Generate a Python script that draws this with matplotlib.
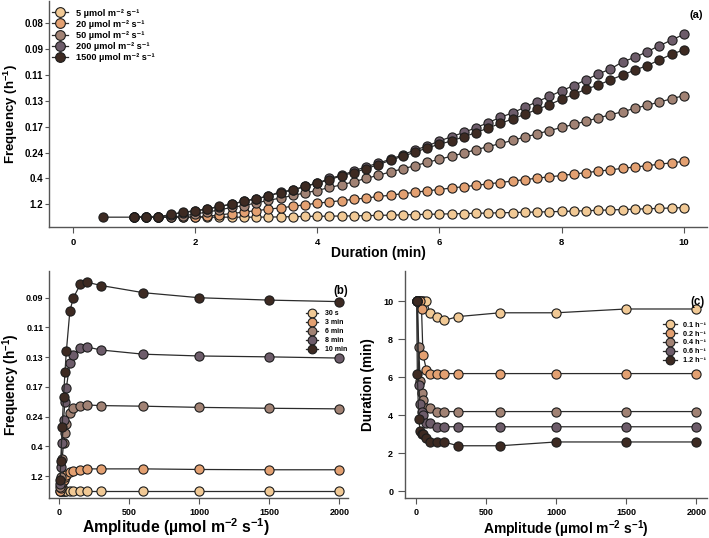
import matplotlib
matplotlib.use("Agg")
import matplotlib.pyplot as plt
from matplotlib.lines import Line2D

plt.rcParams['font.family'] = ['Liberation Sans', 'DejaVu Sans']
plt.rcParams['font.weight'] = 'bold'
plt.rcParams['mathtext.fontset'] = 'custom'
plt.rcParams['mathtext.rm'] = 'Liberation Sans:bold'
plt.rcParams['mathtext.it'] = 'Liberation Sans:bold'
plt.rcParams['mathtext.bf'] = 'Liberation Sans:bold'
plt.rcParams['mathtext.default'] = 'rm'

# ---------------- data ----------------
# y positions are oscillation period (min); tick labels show frequency (h^-1)
period_ticks = [50, 150, 250, 350, 450, 550, 650, 750]
freq_labels = ['1.2', '0.4', '0.24', '0.17', '0.13', '0.11', '0.09', '0.08']

# panel (a): duration (min)
dur_a = [1.0, 1.2, 1.4, 1.6, 1.8, 2.0, 2.2, 2.4, 2.6, 2.8, 3.0, 3.2, 3.4, 3.6, 3.8,
         4.0, 4.2, 4.4, 4.6, 4.8, 5.0, 5.2, 5.4, 5.6, 5.8, 6.0, 6.2, 6.4, 6.6, 6.8,
         7.0, 7.2, 7.4, 7.6, 7.8, 8.0, 8.2, 8.4, 8.6, 8.8, 9.0, 9.2, 9.4, 9.6, 9.8, 10.0]
dur_a_1500 = [0.5] + dur_a
amp_labels_a = ['5 µmol m⁻² s⁻¹', '20 µmol m⁻² s⁻¹', '50 µmol m⁻² s⁻¹',
                '200 µmol m⁻² s⁻¹', '1500 µmol m⁻² s⁻¹']
per_5 = [0, 0, 0, 0, 0, 0, 0, 0, 0, 0, 0, 0.5, 1, 2, 3, 3.5, 4, 4.5, 5, 6, 7, 8, 9,
         10, 11, 12, 13, 14, 15, 16, 17, 18, 19, 20, 21, 22, 23.5, 25, 26.5, 28,
         29.5, 31, 32.5, 34, 35.5, 37]
per_20 = [0, 0, 0, 0, 0, 0, 3, 9, 14, 20, 25, 31, 36, 42, 48, 54, 59, 64, 69, 74, 80,
          85, 91, 96, 102, 107, 113, 118, 123, 129, 134, 140, 145, 151, 156, 161,
          167, 172, 178, 183, 189, 194, 199, 205, 210, 216]
per_50 = [0, 0, 0, 0, 5, 12, 20, 28, 38, 45, 55, 65, 74, 84, 94, 103, 115, 125, 137,
          150, 162, 175, 187, 199, 212, 224, 236, 248, 261, 273, 285, 297, 310, 322,
          335, 347, 359, 371, 384, 396, 408, 421, 433, 445, 458, 470]
per_200 = [0, 0, 0, 10, 18, 24, 31, 41, 50, 61, 71, 81, 99, 104, 119, 131, 150, 162,
           179, 195, 209, 224, 241, 260, 275, 295, 311, 328, 346, 366, 386, 404, 425,
           447, 467, 489, 509, 531, 554, 573, 601, 618, 640, 663, 685, 707]
per_1500 = [0, 0, 0, 0, 11, 19, 25, 32, 42, 51, 62, 72, 82, 95, 105, 120, 132, 144,
            161, 172, 188, 203, 220, 236, 251, 268, 282, 295, 311, 327, 345, 363, 380,
            398, 417, 435, 456, 475, 495, 511, 531, 550, 569, 586, 608, 630, 647]

# panels (b) and (c): amplitude (µmol m-2 s-1)
amp = [5, 10, 20, 30, 40, 50, 75, 100, 150, 200, 300, 600, 1000, 1500, 2000]
dur_labels_b = ['30 s', '3 min', '6 min', '8 min', '10 min']
per_30s = [0, 0, 0, 0, 0, 0, 0, 0, 0, 0, 0, 0, 0, 0, 0]
per_3m = [0, 8, 25, 38, 48, 55, 63, 68, 71, 74, 74, 74, 72, 71, 71]
per_6m = [12, 45, 108, 160, 195, 224, 262, 278, 287, 289, 287, 285, 281, 278, 276]
per_8m = [22, 80, 161, 240, 300, 347, 430, 457, 480, 484, 474, 460, 454, 451, 447]
per_10m = [37, 100, 216, 315, 400, 470, 605, 650, 695, 702, 691, 667, 650, 642, 637]

freq_labels_c = ['0.1 h⁻¹', '0.2 h⁻¹', '0.4 h⁻¹', '0.6 h⁻¹', '1.2 h⁻¹']
dur_f01 = [10, 10, 10, 10, 10, 10, 10, 9.4, 9.2, 9.0, 9.2, 9.4, 9.4, 9.6, 9.6]
dur_f02 = [10, 10, 10, 10, 9.6, 7.2, 6.4, 6.2, 6.2, 6.2, 6.2, 6.2, 6.2, 6.2, 6.2]
dur_f04 = [10, 10, 7.6, 5.8, 5.2, 4.8, 4.4, 4.4, 4.2, 4.2, 4.2, 4.2, 4.2, 4.2, 4.2]
dur_f06 = [10, 10, 5.6, 4.6, 4.2, 4.0, 3.6, 3.6, 3.4, 3.4, 3.4, 3.4, 3.4, 3.4, 3.4]
dur_f12 = [10, 6.2, 3.8, 3.2, 3.0, 3.0, 2.8, 2.6, 2.6, 2.6, 2.4, 2.4, 2.6, 2.6, 2.6]

colors = ['#F1C995', '#E3A071', '#A18274', '#6D5C6A', '#3D2A22']

# ---------------- figure ----------------
W, H = 709, 538
fig = plt.figure(figsize=(W / 100, H / 100), dpi=100)


def fx(x):
    return x / W


def fy(y):
    return 1 - y / H


def add_ax(l, t, r, b):
    return fig.add_axes([l / W, 1 - b / H, (r - l) / W, (b - t) / H])


AXC = '#555555'
LINEC = '#2b2b2b'
EDGEC = '#1c1c1c'


def style(ax, xlim, ylim):
    ax.set_xlim(*xlim)
    ax.set_ylim(*ylim)
    for s in ['top', 'right']:
        ax.spines[s].set_visible(False)
    for s in ['left', 'bottom']:
        ax.spines[s].set_color(AXC)
        ax.spines[s].set_linewidth(1.0)
    ax.tick_params(colors=AXC, labelcolor='black', width=0.8)


def series(ax, x, y, c, ms=6.6):
    ax.plot(x, y, '-o', color=LINEC, lw=0.9, mfc=c, mec=EDGEC, mew=0.8, ms=ms,
            clip_on=False)


def manual_legend(labels, x0, x1, tx, y0, dy, fs, ms):
    for i, (lab, c) in enumerate(zip(labels, colors)):
        y = y0 + i * dy
        fig.add_artist(Line2D([fx(x0), fx(x1)], [fy(y), fy(y)], transform=fig.transFigure,
                              color=LINEC, lw=0.9))
        fig.add_artist(Line2D([fx((x0 + x1) / 2)], [fy(y)], transform=fig.transFigure,
                              ls='none', marker='o', ms=ms, mfc=c, mec=EDGEC, mew=0.8))
        fig.text(fx(tx), fy(y + 0.36 * fs * 100 / 72), lab, fontsize=fs,
                 fontweight='bold', ha='left', va='baseline',
                 family=['Liberation Sans', 'DejaVu Sans'])


# ----- panel (a) -----
axa = add_ax(49, 1, 707, 227)
style(axa, (-0.39, 10.38), (-38, 836))
for x, y, c in zip([dur_a, dur_a, dur_a, dur_a, dur_a_1500],
                   [per_5, per_20, per_50, per_200, per_1500], colors):
    series(axa, x, y, c)
axa.set_xticks([0, 2, 4, 6, 8, 10])
axa.set_yticks(period_ticks)
axa.set_yticklabels(freq_labels)
axa.tick_params(axis='x', length=4, pad=4, labelsize=6.8)
axa.tick_params(axis='y', length=3, pad=1.0, labelsize=7)
fig.text(fx(378), fy(257), 'Duration (min)', fontsize=10, fontweight='bold',
         ha='center', va='baseline')
axa.set_ylabel('Frequency (h$^{-1}$)', fontsize=9.5, fontweight='bold', labelpad=3)
fig.text(fx(703), fy(15), '(a)', fontsize=8, fontweight='bold', ha='right', va='center')
manual_legend(amp_labels_a, 52, 68, 76.5, 12.3, 11.1, 6.6, 7.0)

# ----- panel (b) -----
axb = add_ax(49, 271, 348, 498)
style(axb, (-74, 2062), (-24, 740))
for y, c in zip([per_30s, per_3m, per_6m, per_8m, per_10m], colors):
    series(axb, amp, y, c)
axb.set_xticks([0, 500, 1000, 1500, 2000])
axb.set_yticks(period_ticks[:-1])
axb.set_yticklabels(freq_labels[:-1])
axb.tick_params(axis='x', length=4, pad=3.5, labelsize=6.5)
axb.tick_params(axis='y', length=3, pad=1.0, labelsize=6.5)
fig.text(fx(176), fy(533.5), 'Amplitude (µmol m$^{-2}$ s$^{-1}$)', fontsize=11.3,
         fontweight='bold', ha='center', va='baseline')
axb.set_ylabel('Frequency (h$^{-1}$)', fontsize=9.8, fontweight='bold', labelpad=3)
fig.text(fx(348), fy(291), '(b)', fontsize=8.3, fontweight='bold', ha='right', va='center')
manual_legend(dur_labels_b, 306, 318, 325, 312.7, 9.0, 5.0, 6.3)

# ----- panel (c) -----
axc = add_ax(405, 271, 707, 498)
style(axc, (-78, 2076), (-0.35, 11.6))
for y, c in zip([dur_f01, dur_f02, dur_f04, dur_f06, dur_f12], colors):
    series(axc, amp, y, c)
axc.set_xticks([0, 500, 1000, 1500, 2000])
axc.set_yticks([0, 2, 4, 6, 8, 10])
axc.tick_params(axis='x', length=4, pad=3.5, labelsize=6.5)
axc.tick_params(axis='y', length=5, pad=3.5, labelsize=6.5)
fig.text(fx(566), fy(533.5), 'Amplitude (µmol m$^{-2}$ s$^{-1}$)', fontsize=10,
         fontweight='bold', ha='center', va='baseline')
axc.set_ylabel('Duration (min)', fontsize=9.8, fontweight='bold', labelpad=6)
fig.text(fx(705), fy(302), '(c)', fontsize=8.3, fontweight='bold', ha='right', va='center')
manual_legend(freq_labels_c, 663, 677, 683, 324, 8.9, 5.2, 6.3)

fig.savefig('out.png', dpi=100)
